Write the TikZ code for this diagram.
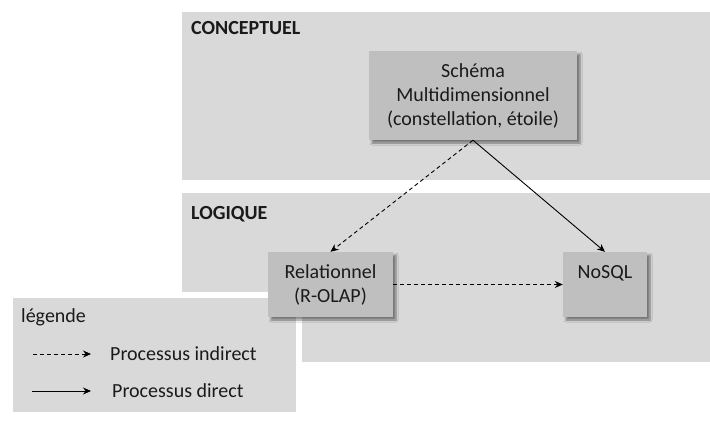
\documentclass[tikz,border=0pt]{standalone}
\usepackage{fontspec}
\setmainfont{Carlito}
\usetikzlibrary{arrows.meta,shadows.blur}
\definecolor{panel}{HTML}{D9D9D9}
\definecolor{boxg}{HTML}{BFBFBF}
\definecolor{txt}{HTML}{1A1A1A}
\begin{document}
\begin{tikzpicture}[x=1pt,y=-1pt,
  every node/.style={font=\fontsize{20}{24}\selectfont, text=txt, inner sep=0pt},
  panelbox/.style={fill=panel, draw=none},
  procbox/.style={fill=boxg, draw=none, align=center,
    blur shadow={shadow xshift=3pt, shadow yshift=-3pt, shadow blur steps=6, shadow blur radius=2pt, shadow opacity=45}},
  heading/.style={anchor=west, font=\fontsize{20}{24}\selectfont\bfseries},
  conn/.style={line width=0.9pt, -{Stealth[length=8pt,width=7pt]}},
  indirect/.style={conn, dash pattern=on 4pt off 3pt}]
\useasboundingbox (0,0) rectangle (710,425);
\fill[white] (0,0) rectangle (710,425);
% panels
\path[panelbox] (182,12) rectangle (710,180);
\path[panelbox] (182,193) rectangle (710,362);
\node[heading] (conc) at (191,28) {CONCEPTUEL};
\node[heading] (logi) at (191,214) {LOGIQUE};
% legend
\path[fill=panel, draw=white, line width=6pt] (10,295) rectangle (299,415);
\node[anchor=west] (leg) at (21,317) {légende};
\coordinate (d1) at (33,354);
\coordinate (d2) at (91,354);
\coordinate (s1) at (32,391);
\coordinate (s2) at (91,391);
\draw[indirect] (d1) -- (d2);
\draw[conn] (s1) -- (s2);
\node[anchor=west] (lind) at (110,354) {Processus indirect};
\node[anchor=west] (ldir) at (112,391) {Processus direct};
% boxes
\node[procbox, minimum width=208pt, minimum height=89pt] (schema) at (473,95.5)
  {Schéma\\Multidimensionnel\\(constellation, étoile)};
\node[procbox, minimum width=125pt, minimum height=65pt] (rel) at (330.5,284.5)
  {Relationnel\\(R-OLAP)};
\node[procbox, minimum width=84pt, minimum height=65pt] (nosql) at (605,284.5)
  {NoSQL\\\mbox{}};
% connectors
\draw[indirect] (schema.south) -- (rel.north);
\draw[conn] (schema.south) -- (nosql.north);
\draw[indirect] (rel.east) -- (nosql.west);
\end{tikzpicture}
\end{document}
